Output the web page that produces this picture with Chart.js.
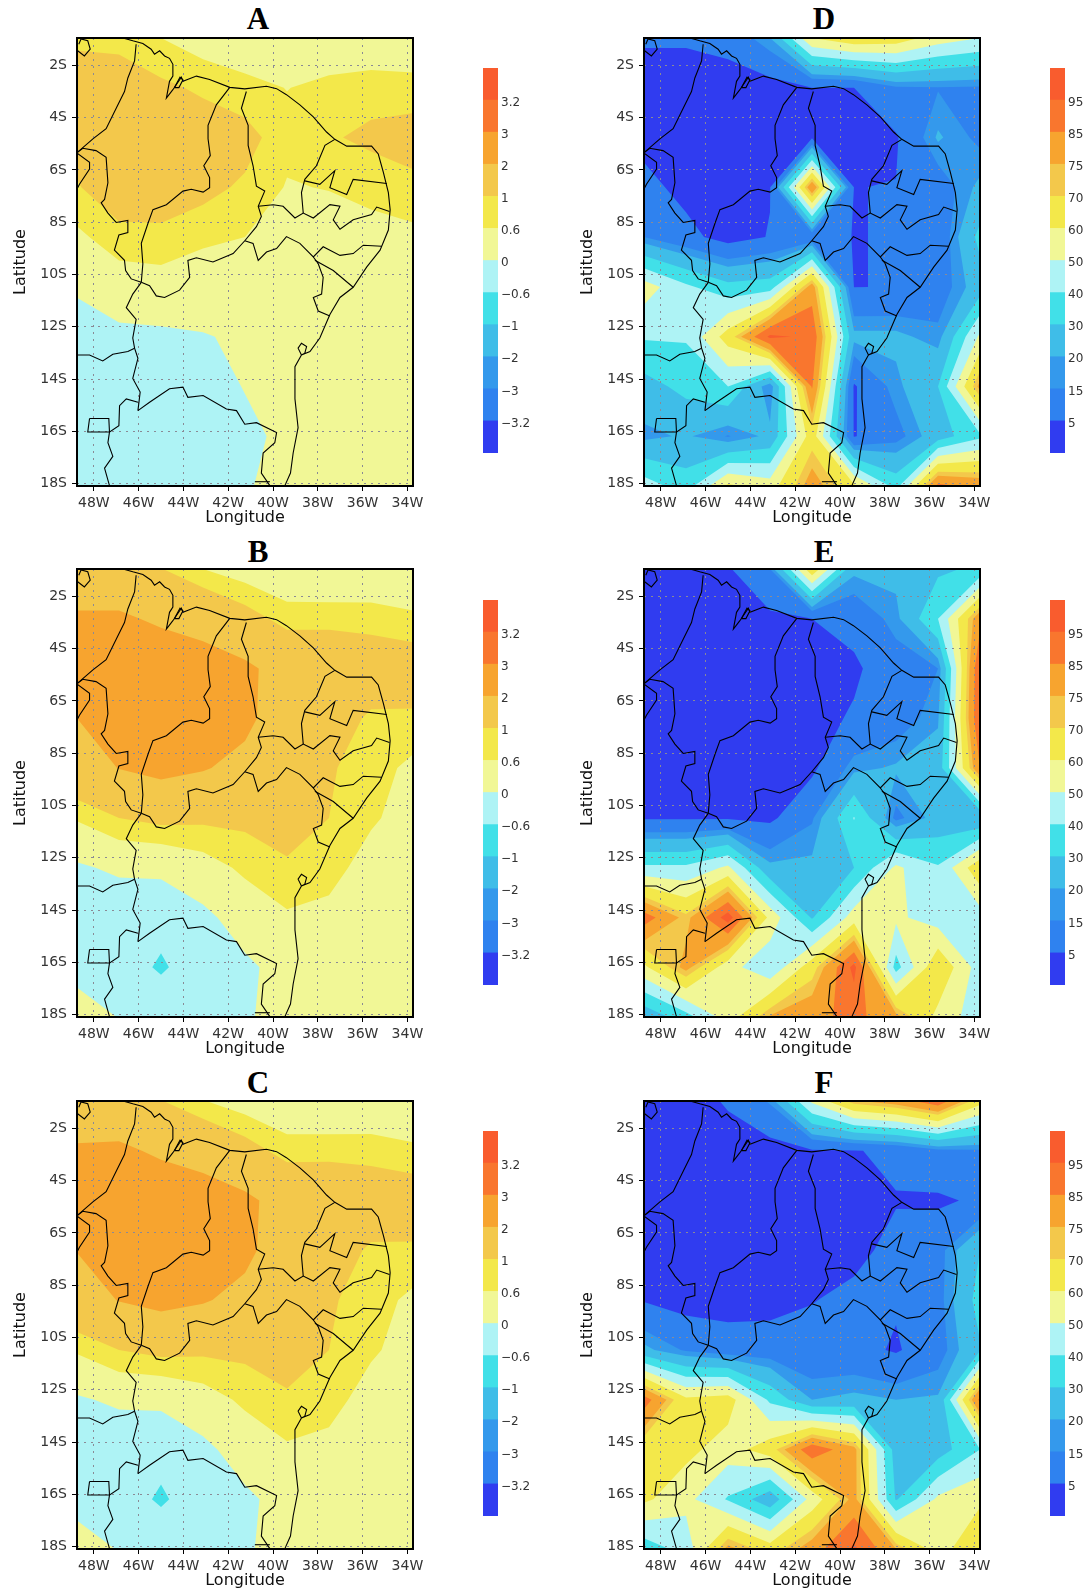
<!DOCTYPE html>
<html>
<head>
<meta charset="utf-8">
<title>Mapas A-F</title>
<script src="https://cdn.jsdelivr.net/npm/chart.js@4/dist/chart.umd.min.js"></script>
<style>
  html, body { margin: 0; background: #fff; }
  body { position: relative; width: 1090px; height: 1591px; overflow: hidden; }
  canvas { position: absolute; }
  .letter { position: absolute; width: 60px; margin-left: -30px; text-align: center;
            font: bold 31px "Liberation Serif", serif; line-height: 36px; color: #000; }
</style>
</head>
<body>
<script>
// grid of the model (T62), rows go north to south
const gridLons = [-48.75, -46.875, -45, -43.125, -41.25, -39.375, -37.5, -35.625, -33.75];
const gridLats = [-0.952, -2.857, -4.761, -6.666, -8.571, -10.475, -12.38, -14.284, -16.189, -18.094];

const lonTicks = [-48, -46, -44, -42, -40, -38, -36, -34];
const lonLabels = ['48W', '46W', '44W', '42W', '40W', '38W', '36W', '34W'];
const latTicks = [-2, -4, -6, -8, -10, -12, -14, -16, -18];
const latLabels = ['2S', '4S', '6S', '8S', '10S', '12S', '14S', '16S', '18S'];

const anomalyLevels = [-3.2, -3, -2, -1, -0.6, 0, 0.6, 1, 2, 3, 3.2];
const anomalyLabels = ['\u22123.2', '\u22123', '\u22122', '\u22121', '\u22120.6', '0', '0.6', '1', '2', '3', '3.2'];
const percentLevels = [5, 15, 20, 30, 40, 50, 60, 70, 75, 85, 95];
const percentLabels = ['5', '15', '20', '30', '40', '50', '60', '70', '75', '85', '95'];
const bandColors = ['#303cf0', '#2f82ef', '#3499ec', '#3fbde8', '#41e0e8', '#aef3f5',
                    '#f1f796', '#f3e84a', '#f3c84b', '#f7a42f', '#f9762e', '#f95c2e'];

const valuesA = [
  [0.9, 0.9, 0.6, 0.36, 0.3, 0.25, 0.3, 0.33, 0.35],
  [1.3, 1.2, 1.1, 0.92, 0.72, 0.59, 0.7, 0.75, 0.71],
  [1.2, 1.4, 1.4, 1.3, 1.19, 0.72, 0.93, 1.14, 1.28],
  [0.96, 1.35, 1.3, 1.15, 0.92, 0.57, 0.62, 0.64, 0.84],
  [0.5, 0.84, 0.88, 0.72, 0.6, 0.45, 0.35, 0.55, 0.5],
  [0.12, 0.33, 0.38, 0.2, 0.2, 0.3, 0.25, 0.3, 0.3],
  [-0.43, -0.13, -0.1, -0.02, 0.05, 0.3, 0.25, 0.25, 0.3],
  [-0.5, -0.4, -0.35, -0.3, 0.03, 0.3, 0.25, 0.25, 0.3],
  [-0.5, -0.5, -0.45, -0.4, -0.17, 0.16, 0.3, 0.3, 0.3],
  [-0.5, -0.5, -0.45, -0.4, -0.1, 0.37, 0.3, 0.3, 0.3]
];
const valuesB = [
  [1.6, 1.5, 1.02, 0.6, 0.35, 0.2, 0.2, 0.25, 0.2],
  [2.08, 2.1, 1.9, 1.68, 1.25, 0.81, 0.8, 0.77, 0.68],
  [2.3, 2.5, 2.45, 2.39, 2.16, 1.67, 1.7, 1.49, 1.36],
  [2.0, 2.5, 2.6, 2.5, 2.2, 1.5, 1.4, 0.89, 0.91],
  [1.6, 2.02, 2.25, 2.06, 1.76, 1.5, 1.05, 0.8, 0.48],
  [0.65, 1, 1.15, 1.1, 1.12, 1.35, 1, 0.68, 0.35],
  [-0.08, 0.1, 0.1, 0.37, 0.7, 0.9, 0.8, 0.36, 0.3],
  [-0.5, -0.4, -0.33, -0.13, 0.25, 0.54, 0.44, 0.3, 0.3],
  [-0.2, -0.2, -0.705, -0.15, -0.1, 0.19, 0.3, 0.3, 0.3],
  [0.29, -0.02, -0.02, -0.3, -0.1, 0.32, 0.3, 0.3, 0.3]
];
const valuesC = [
  [1.6, 1.5, 1.02, 0.62, 0.36, 0.2, 0.2, 0.25, 0.22],
  [2.07, 2.12, 1.9, 1.68, 1.25, 0.8, 0.8, 0.78, 0.68],
  [2.3, 2.5, 2.45, 2.4, 2.17, 1.67, 1.7, 1.5, 1.37],
  [2.02, 2.5, 2.6, 2.5, 2.2, 1.5, 1.4, 0.9, 0.92],
  [1.6, 2.03, 2.25, 2.07, 1.76, 1.5, 1.06, 0.8, 0.49],
  [0.66, 1, 1.15, 1.1, 1.12, 1.35, 1, 0.68, 0.36],
  [-0.07, 0.1, 0.1, 0.36, 0.7, 0.9, 0.8, 0.36, 0.3],
  [-0.5, -0.4, -0.34, -0.13, 0.25, 0.54, 0.44, 0.3, 0.3],
  [-0.2, -0.2, -0.71, -0.15, -0.1, 0.19, 0.3, 0.3, 0.3],
  [0.27, -0.03, -0.01, -0.3, -0.1, 0.33, 0.3, 0.3, 0.3]
];
const valuesD = [
  [6, 6, 8, 20, 60, 68, 66, 55, 50],
  [1, 1, 1, 1, 5, 5, 14, 14.5, 14],
  [2, 1, 1, 1, 4, 3, 4, 21, 13],
  [8, 2, 1, 4.5, 84, 4.9, 5.2, 10, 22],
  [15, 8, 1, 5.5, 8, 4.8, 5.4, 8, 33],
  [55, 42, 33, 35, 80, 4.9, 5.2, 10, 25],
  [41, 41, 65, 97, 93, 22, 22, 17, 52],
  [26, 33, 40, 15, 86, 4, 18, 30, 78],
  [18, 21, 14.5, 22, 66, 4.5, 12, 25, 38],
  [45, 35, 62, 55, 80, 62, 36, 88, 82]
];
const valuesE = [
  [1, 1, 4, 15, 68, 22, 22, 28, 32],
  [1, 1, 1, 3, 5, 8, 18, 40, 82],
  [1, 1, 1, 1, 1, 3.5, 10.6, 15, 95],
  [1, 1, 1, 1, 2, 6, 10, 19, 96],
  [1, 1, 1, 1, 3, 18, 21, 24, 85],
  [4, 4, 4, 3, 14, 40.5, 13, 23, 20],
  [42, 42, 52, 22, 22, 30, 52, 41, 68],
  [90, 72, 100, 57, 29, 55, 52, 45, 45],
  [58, 78, 54, 42, 66, 98, 36, 69, 45],
  [22, 36, 55, 76, 82, 88, 78, 57, 44]
];
const valuesF = [
  [1, 1, 6, 16, 52, 74, 80, 92, 64],
  [1, 1, 1, 1, 4, 4.5, 6.8, 13, 14],
  [1, 1, 1, 1, 1, 2, 4.55, 3.5, 6.5],
  [1, 1, 1, 1, 1, 3, 7.2, 12, 30],
  [4.3, 1, 1, 1.5, 4.7, 6.8, 6, 12, 34],
  [22, 14, 10, 10, 8, 8, 4, 11, 29],
  [90, 62, 65, 38, 20, 22, 20, 21, 88],
  [63, 63, 55, 66, 92, 78, 25, 25, 40],
  [62, 53, 39, 23, 54, 78, 29, 52, 58],
  [34, 44, 78, 65, 80, 97, 75, 55, 70]
];

// coast and state borders, lon/lat
const coast = [[-46.70,-0.95],[-46.26,-1.06],[-45.81,-1.16],[-45.44,-1.38],[-45.29,-1.57],[-45.06,-1.44],[-44.84,-1.64],[-44.62,-1.73],[-44.47,-1.96],[-44.47,-2.41],[-44.62,-2.61],[-44.76,-3.25],[-44.47,-2.93],[-44.09,-2.45],[-44.02,-2.61],[-43.42,-2.41],[-42.83,-2.54],[-41.93,-2.84],[-41.26,-2.90],[-40.29,-2.80],[-39.84,-2.89],[-39.40,-3.12],[-38.80,-3.51],[-38.20,-3.97],[-37.61,-4.55],[-37.24,-4.83],[-36.71,-5.09],[-35.60,-5.09],[-35.30,-5.39],[-35.07,-6.10],[-34.85,-6.87],[-34.77,-7.52],[-34.85,-8.30],[-35.22,-9.07],[-35.82,-9.72],[-36.42,-10.49],[-37.01,-10.88],[-37.46,-11.53],[-37.91,-12.43],[-38.35,-12.95],[-38.73,-13.08],[-38.58,-13.01],[-38.50,-12.76],[-38.73,-12.63],[-38.88,-12.82],[-38.73,-13.08],[-39.02,-13.53],[-39.02,-14.11],[-39.02,-14.76],[-38.88,-15.86],[-39.10,-16.83],[-39.22,-17.60],[-39.47,-18.08]];
const maranhaoIsland = [[-44.40,-2.85],[-44.15,-2.45],[-44.02,-2.55],[-44.20,-2.85],[-44.40,-2.85]];
const marajo = [[-48.72,-1.44],[-48.42,-1.64],[-48.16,-1.38],[-48.27,-1.06],[-48.57,-0.99],[-48.67,-1.19]];
const borderPara = [[-46.11,-1.19],[-46.18,-1.83],[-46.48,-2.48],[-46.63,-3.0],[-47.0,-3.64],[-47.45,-4.42],[-48.04,-4.81],[-48.76,-5.35]];
const borderTocantins = [[-48.76,-5.35],[-48.49,-5.17],[-47.90,-5.26],[-47.45,-5.52],[-47.37,-6.49],[-47.52,-7.13],[-47.67,-7.26],[-47.37,-7.65],[-47.0,-8.01],[-46.48,-7.93],[-46.48,-8.40],[-46.88,-8.49],[-47.08,-9.07],[-46.63,-9.46],[-46.58,-9.85],[-46.33,-10.17],[-45.88,-10.30]];
const borderAraguaia = [[-48.76,-5.35],[-48.19,-5.71],[-48.19,-5.97],[-48.64,-6.55],[-48.72,-6.68]];
const borderParnaiba = [[-41.93,-2.84],[-42.53,-3.51],[-42.90,-4.29],[-42.90,-4.81],[-42.80,-5.45],[-43.09,-5.84],[-42.83,-6.29],[-42.83,-6.68],[-43.12,-6.85],[-43.65,-6.74],[-44.02,-6.81],[-44.76,-7.33],[-45.36,-7.52],[-45.58,-8.04],[-45.88,-8.81],[-45.81,-9.59],[-45.88,-10.30]];
const borderBahiaWest = [[-45.88,-10.30],[-46.26,-10.75],[-46.55,-11.27],[-46.11,-11.72],[-46.26,-12.43],[-46.18,-12.82],[-46.03,-13.21],[-46.26,-13.98],[-45.93,-14.50],[-46.03,-15.21]];
const borderPiaui = [[-45.88,-10.30],[-45.51,-10.43],[-45.21,-10.82],[-44.84,-10.88],[-44.17,-10.60],[-43.72,-10.11],[-43.80,-9.46],[-43.42,-9.36],[-42.68,-9.52],[-41.78,-9.20],[-41.26,-8.71],[-40.74,-8.17],[-40.52,-7.78],[-40.66,-7.39],[-40.37,-6.81],[-40.74,-6.62],[-40.89,-5.84],[-41.11,-5.06],[-41.11,-4.29],[-41.41,-3.64],[-41.19,-3.0]];
const borderPernambucoSouth = [[-41.26,-8.71],[-40.89,-8.81],[-40.66,-9.46],[-40.29,-9.14],[-39.84,-9.01],[-39.40,-8.55],[-38.80,-8.81],[-38.20,-9.33],[-37.76,-8.94],[-37.01,-9.27],[-36.42,-9.20],[-35.97,-8.88],[-35.15,-8.92]];
const borderPernambucoNorth = [[-40.66,-7.39],[-39.99,-7.33],[-39.55,-7.39],[-39.02,-7.84],[-38.65,-7.65],[-38.20,-7.84],[-37.46,-7.33],[-37.01,-7.39],[-37.31,-7.91],[-37.01,-8.27],[-36.42,-7.91],[-35.60,-7.71],[-35.37,-7.42],[-34.80,-7.59]];
const borderCeara = [[-38.65,-7.65],[-38.73,-6.87],[-38.58,-6.36],[-38.06,-5.84],[-37.68,-5.06],[-37.24,-4.83]];
const borderParaiba = [[-38.58,-6.42],[-37.91,-6.55],[-37.24,-6.03],[-37.46,-6.68],[-36.71,-6.94],[-36.42,-6.36],[-34.92,-6.52]];
const borderSergipe = [[-38.20,-9.33],[-37.98,-9.59],[-37.76,-10.11],[-37.83,-10.75],[-38.20,-10.88],[-37.98,-11.40],[-37.46,-11.59]];
const borderAlagoas = [[-38.13,-9.46],[-37.31,-9.85],[-36.42,-10.49]];
const borderMinas = [[-46.03,-15.21],[-45.51,-14.89],[-44.62,-14.37],[-44.02,-14.31],[-43.80,-14.70],[-43.12,-14.63],[-42.08,-15.15],[-41.63,-15.21],[-41.26,-15.73],[-40.74,-15.67],[-39.84,-16.05],[-39.92,-16.44],[-40.44,-16.83],[-40.52,-17.60],[-40.14,-18.08]];
const borderEspirito = [[-40.81,-17.93],[-40.14,-17.93]];
const borderGoias = [[-46.03,-14.89],[-46.55,-14.76],[-46.85,-15.02],[-46.88,-15.79],[-47.30,-16.03],[-47.37,-16.44],[-47.15,-16.96],[-47.52,-17.41],[-47.30,-18.08]];
const borderDF = [[-48.19,-15.51],[-47.33,-15.51],[-47.30,-16.03],[-48.27,-16.03],[-48.19,-15.51]];
const borderGoiasNorth = [[-48.76,-13.08],[-48.19,-13.08],[-47.60,-13.31],[-47.15,-13.05],[-46.48,-12.95],[-46.18,-12.82]];

const mapLines = [coast, maranhaoIsland, marajo, borderPara, borderTocantins, borderAraguaia, borderParnaiba,
  borderBahiaWest, borderPiaui, borderPernambucoSouth, borderPernambucoNorth, borderCeara, borderParaiba,
  borderSergipe, borderAlagoas, borderMinas, borderEspirito, borderGoias, borderDF, borderGoiasNorth];

// part of a grid cell where v >= level, edges linear in v
function clipAbove(poly, level) {
  const out = [];
  poly.forEach((p, i) => {
    const q = poly[(i + 1) % poly.length];
    const pIn = p.v >= level, qIn = q.v >= level;
    if (pIn) out.push(p);
    if (pIn !== qIn) {
      const t = (level - p.v) / (q.v - p.v);
      out.push({ x: p.x + t * (q.x - p.x), y: p.y + t * (q.y - p.y), v: level });
    }
  });
  return out;
}

// saddle cell: the cell mean decides if the two high corners join or stay apart
function cellPieces(cell, level) {
  const inside = cell.map(p => p.v >= level);
  const saddle = inside[0] === inside[2] && inside[1] === inside[3] && inside[0] !== inside[1];
  const mean = (cell[0].v + cell[1].v + cell[2].v + cell[3].v) / 4;
  const poly = clipAbove(cell, level);
  if (!saddle || mean >= level) return [poly];
  if (inside[0]) {
    // corner0, cut01, cut12, corner2, cut23, cut30
    return [[poly[0], poly[1], poly[5]], [poly[2], poly[3], poly[4]]];
  }
  // cut01, corner1, cut12, cut23, corner3, cut30
  return [[poly[0], poly[1], poly[2]], [poly[3], poly[4], poly[5]]];
}

const contourPlugin = {
  id: 'contour',
  beforeDraw(chart, args, opts) {
    const { ctx, chartArea: a, scales } = chart;
    const px = i => scales.x.getPixelForValue(gridLons[i]);
    const py = j => scales.y.getPixelForValue(gridLats[j]);
    ctx.save();
    ctx.beginPath();
    ctx.rect(a.left, a.top, a.right - a.left, a.bottom - a.top);
    ctx.clip();
    ctx.fillStyle = bandColors[0];
    ctx.fillRect(a.left, a.top, a.right - a.left, a.bottom - a.top);
    opts.levels.forEach((level, l) => {
      ctx.beginPath();
      for (let j = 0; j < gridLats.length - 1; j++) {
        for (let i = 0; i < gridLons.length - 1; i++) {
          const cell = [
            { x: px(i), y: py(j), v: opts.values[j][i] },
            { x: px(i + 1), y: py(j), v: opts.values[j][i + 1] },
            { x: px(i + 1), y: py(j + 1), v: opts.values[j + 1][i + 1] },
            { x: px(i), y: py(j + 1), v: opts.values[j + 1][i] }
          ];
          cellPieces(cell, level).forEach(poly => {
            if (poly.length < 3) return;
            poly.forEach((p, k) => k ? ctx.lineTo(p.x, p.y) : ctx.moveTo(p.x, p.y));
            ctx.closePath();
          });
        }
      }
      ctx.fillStyle = bandColors[l + 1];
      ctx.fill();
    });
    ctx.restore();
  },
  afterDraw(chart) {
    const { ctx, chartArea: a } = chart;
    ctx.save();
    ctx.strokeStyle = '#000';
    ctx.lineWidth = 2;
    ctx.strokeRect(a.left, a.top, a.right - a.left, a.bottom - a.top);
    ctx.restore();
  }
};

function addCanvas(left, top, w, h) {
  const c = document.createElement('canvas');
  c.width = w; c.height = h;
  c.style.left = left + 'px'; c.style.top = top + 'px';
  c.style.width = w + 'px'; c.style.height = h + 'px';
  document.body.appendChild(c);
  return c;
}

function drawMap(left, top, letter, letterX, letterY, values, levels) {
  const div = document.createElement('div');
  div.className = 'letter';
  div.textContent = letter;
  div.style.left = letterX + 'px';
  div.style.top = letterY + 'px';
  document.body.appendChild(div);

  const tickFont = { family: '"DejaVu Sans", sans-serif', size: 14 };
  const titleFont = { family: '"DejaVu Sans", sans-serif', size: 16 };
  const axisBits = {
    grid: { color: '#8a8a95', lineWidth: 1, tickLength: 5, tickColor: '#000', tickWidth: 1 },
    border: { display: false, dash: [2, 5] }
  };
  new Chart(addCanvas(left - 77, top - 16, 443, 508), {
    type: 'scatter',
    plugins: [contourPlugin],
    data: {
      datasets: mapLines.map(line => ({
        data: line,
        showLine: true,
        borderColor: '#000',
        borderWidth: 1.1,
        pointRadius: 0,
        tension: 0
      }))
    },
    options: {
      responsive: false,
      animation: false,
      events: [],
      layout: { padding: { top: 16, right: 30, left: 0, bottom: 0 } },
      plugins: { legend: { display: false }, tooltip: { enabled: false }, contour: { values, levels } },
      scales: {
        x: {
          ...axisBits,
          type: 'linear',
          min: gridLons[0],
          max: gridLons[gridLons.length - 1],
          afterBuildTicks: s => { s.ticks = lonTicks.map(value => ({ value })); },
          afterFit: s => { s.height = 44; },
          ticks: { autoSkip: false, maxRotation: 0, minRotation: 0, padding: 4, color: '#333', font: tickFont,
                   callback: (v, i) => lonLabels[i] },
          title: { display: true, text: 'Longitude', color: '#111', font: titleFont, padding: { top: 0, bottom: 3 } }
        },
        y: {
          ...axisBits,
          type: 'linear',
          min: gridLats[gridLats.length - 1],
          max: gridLats[0],
          afterBuildTicks: s => { s.ticks = latTicks.map(value => ({ value })); },
          afterFit: s => { s.width = 77; },
          ticks: { autoSkip: false, padding: 5, color: '#333', font: tickFont,
                   callback: (v, i) => latLabels[i] },
          title: { display: true, text: 'Latitude', color: '#111', font: titleFont, padding: { top: 11, bottom: 0 } }
        }
      }
    }
  });
}

function drawBar(left, top, labels) {
  const w = left > 1000 ? 40 : 60;
  new Chart(addCanvas(left, top - 12, w, 409), {
    type: 'bar',
    data: {
      labels: [''],
      datasets: bandColors.map(color => ({ data: [1], backgroundColor: color, barPercentage: 1, categoryPercentage: 1 }))
    },
    options: {
      responsive: false,
      animation: false,
      events: [],
      layout: { padding: { top: 12, bottom: 12 } },
      plugins: { legend: { display: false }, tooltip: { enabled: false } },
      scales: {
        x: { display: false, stacked: true },
        y: {
          position: 'right',
          stacked: true,
          min: 0,
          max: bandColors.length,
          grid: { display: false, drawTicks: false },
          border: { display: false },
          // labels sit a touch under the box edge in the original
          afterBuildTicks: s => { s.ticks = labels.map((t, i) => ({ value: i + 0.92 })); },
          afterFit: s => { s.width = w - 15; },
          ticks: { autoSkip: false, padding: 3, color: '#333', font: { family: '"DejaVu Sans", sans-serif', size: 12 },
                   callback: (v, i) => labels[i] }
        }
      }
    }
  });
}

drawMap(77, 38, 'A', 258, 1, valuesA, anomalyLevels);
drawMap(77, 569, 'B', 258, 534, valuesB, anomalyLevels);
drawMap(77, 1101, 'C', 258, 1065, valuesC, anomalyLevels);
drawMap(644, 38, 'D', 824, 1, valuesD, percentLevels);
drawMap(644, 569, 'E', 824, 534, valuesE, percentLevels);
drawMap(644, 1101, 'F', 824, 1065, valuesF, percentLevels);

drawBar(483, 68, anomalyLabels);
drawBar(483, 600, anomalyLabels);
drawBar(483, 1131, anomalyLabels);
drawBar(1050, 68, percentLabels);
drawBar(1050, 600, percentLabels);
drawBar(1050, 1131, percentLabels);
</script>
</body>
</html>
